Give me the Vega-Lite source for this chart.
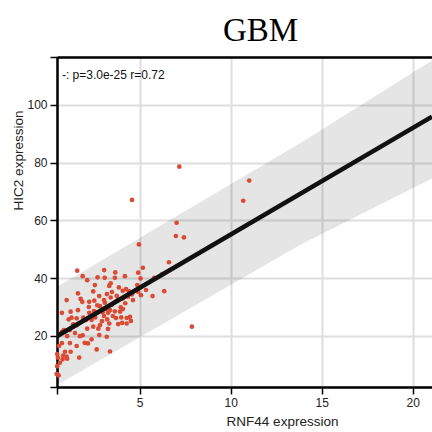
{
  "$schema": "https://vega.github.io/schema/vega-lite/v6.json",
  "autosize": {"type": "none"},
  "width": 375,
  "height": 330,
  "padding": {"left": 57, "top": 57, "right": 0, "bottom": 45},
  "background": "white",
  "title": {"text": "GBM", "font": "Liberation Serif", "fontSize": 33, "fontWeight": "normal", "color": "#000", "anchor": "middle", "dx": 16, "offset": -18, "baseline": "alphabetic"},
  "config": {
    "view": {"stroke": null},
    "axis": {
      "domainColor": "#000", "domainWidth": 2.5, "tickColor": "#000", "tickWidth": 1.5, "tickSize": 7,
      "labelFont": "Liberation Sans", "labelFontSize": 12, "labelColor": "#222", "labelPadding": 3,
      "titleFont": "Liberation Sans", "titleFontSize": 13.5, "titleFontWeight": "normal", "titleColor": "#222",
      "gridColor": "#dedede", "gridWidth": 2
    }
  },
  "datasets": {
    "points": [
      {"rnf44": 7.18, "hic2": 78.6}, {"rnf44": 4.58, "hic2": 67.1}, {"rnf44": 11.02, "hic2": 73.8}, {"rnf44": 10.69, "hic2": 66.8},
      {"rnf44": 7.03, "hic2": 59.2}, {"rnf44": 6.99, "hic2": 54.6}, {"rnf44": 7.43, "hic2": 54.1}, {"rnf44": 4.96, "hic2": 51.7},
      {"rnf44": 6.61, "hic2": 45.5}, {"rnf44": 5.18, "hic2": 43.6}, {"rnf44": 7.87, "hic2": 23.2}, {"rnf44": 6.23, "hic2": 41.3},
      {"rnf44": 5.8, "hic2": 40.1}, {"rnf44": 6.35, "hic2": 35.5}, {"rnf44": 5.71, "hic2": 33.8},
      {"rnf44": 1.57, "hic2": 42.6}, {"rnf44": 1.87, "hic2": 40.7}, {"rnf44": 2.12, "hic2": 39.3}, {"rnf44": 2.69, "hic2": 40.3},
      {"rnf44": 3.08, "hic2": 40.1}, {"rnf44": 3.66, "hic2": 42.0}, {"rnf44": 3.64, "hic2": 40.1}, {"rnf44": 4.19, "hic2": 40.7},
      {"rnf44": 4.92, "hic2": 41.9}, {"rnf44": 5.05, "hic2": 39.9}, {"rnf44": 3.41, "hic2": 38.2}, {"rnf44": 3.33, "hic2": 37.3},
      {"rnf44": 3.86, "hic2": 36.8}, {"rnf44": 2.45, "hic2": 35.4}, {"rnf44": 4.07, "hic2": 35.6}, {"rnf44": 4.41, "hic2": 35.5},
      {"rnf44": 4.87, "hic2": 37.6}, {"rnf44": 4.91, "hic2": 35.3}, {"rnf44": 4.58, "hic2": 34.4}, {"rnf44": 1.61, "hic2": 34.7},
      {"rnf44": 1.76, "hic2": 32.8}, {"rnf44": 1.85, "hic2": 31.8}, {"rnf44": 0.99, "hic2": 32.4}, {"rnf44": 2.78, "hic2": 33.8},
      {"rnf44": 3.04, "hic2": 32.4}, {"rnf44": 3.41, "hic2": 33.3}, {"rnf44": 3.74, "hic2": 33.9}, {"rnf44": 4.1, "hic2": 33.0},
      {"rnf44": 4.36, "hic2": 33.6}, {"rnf44": 4.21, "hic2": 31.3}, {"rnf44": 3.96, "hic2": 29.9}, {"rnf44": 3.66, "hic2": 31.8},
      {"rnf44": 3.46, "hic2": 30.7}, {"rnf44": 3.09, "hic2": 31.5}, {"rnf44": 2.67, "hic2": 30.6}, {"rnf44": 2.23, "hic2": 31.8},
      {"rnf44": 2.51, "hic2": 32.2}, {"rnf44": 2.21, "hic2": 30.0}, {"rnf44": 1.61, "hic2": 28.9}, {"rnf44": 1.21, "hic2": 28.4},
      {"rnf44": 1.26, "hic2": 26.3}, {"rnf44": 1.1, "hic2": 25.7}, {"rnf44": 0.84, "hic2": 22.0}, {"rnf44": 0.73, "hic2": 21.4},
      {"rnf44": 1.54, "hic2": 26.1}, {"rnf44": 1.9, "hic2": 26.3}, {"rnf44": 2.23, "hic2": 28.0}, {"rnf44": 2.36, "hic2": 25.5},
      {"rnf44": 2.56, "hic2": 26.4}, {"rnf44": 2.73, "hic2": 28.2}, {"rnf44": 2.97, "hic2": 28.2}, {"rnf44": 3.04, "hic2": 26.9},
      {"rnf44": 3.27, "hic2": 28.0}, {"rnf44": 3.37, "hic2": 28.9}, {"rnf44": 3.64, "hic2": 28.5}, {"rnf44": 3.92, "hic2": 28.4},
      {"rnf44": 3.99, "hic2": 26.4}, {"rnf44": 4.29, "hic2": 26.2}, {"rnf44": 4.47, "hic2": 26.6}, {"rnf44": 4.52, "hic2": 25.2},
      {"rnf44": 4.29, "hic2": 24.3}, {"rnf44": 4.04, "hic2": 24.5}, {"rnf44": 3.82, "hic2": 24.1}, {"rnf44": 3.22, "hic2": 25.7},
      {"rnf44": 3.33, "hic2": 24.3}, {"rnf44": 3.26, "hic2": 22.4}, {"rnf44": 2.82, "hic2": 23.7}, {"rnf44": 2.73, "hic2": 22.5},
      {"rnf44": 2.78, "hic2": 20.3}, {"rnf44": 3.19, "hic2": 19.7}, {"rnf44": 2.45, "hic2": 23.2}, {"rnf44": 2.12, "hic2": 22.5},
      {"rnf44": 1.87, "hic2": 20.2}, {"rnf44": 1.72, "hic2": 19.9}, {"rnf44": 1.54, "hic2": 16.5}, {"rnf44": 1.98, "hic2": 17.6},
      {"rnf44": 2.16, "hic2": 17.4}, {"rnf44": 2.36, "hic2": 18.8}, {"rnf44": 2.64, "hic2": 15.3}, {"rnf44": 3.37, "hic2": 14.6},
      {"rnf44": 1.68, "hic2": 12.5}, {"rnf44": 1.21, "hic2": 14.5}, {"rnf44": 0.9, "hic2": 14.5}, {"rnf44": 0.99, "hic2": 12.8},
      {"rnf44": 0.77, "hic2": 11.9}, {"rnf44": 0.62, "hic2": 10.7}, {"rnf44": 0.47, "hic2": 13.7}, {"rnf44": 0.51, "hic2": 12.5},
      {"rnf44": 0.47, "hic2": 9.5}, {"rnf44": 0.44, "hic2": 6.8}, {"rnf44": 0.55, "hic2": 6.3}, {"rnf44": 1.02, "hic2": 12.1},
      {"rnf44": 0.8, "hic2": 13.2}, {"rnf44": 1.17, "hic2": 22.0}, {"rnf44": 1.02, "hic2": 19.9}, {"rnf44": 0.73, "hic2": 28.0},
      {"rnf44": 1.35, "hic2": 24.0}, {"rnf44": 3.05, "hic2": 42.8}, {"rnf44": 3.48, "hic2": 35.2}, {"rnf44": 3.81, "hic2": 32.8},
      {"rnf44": 2.82, "hic2": 30.3}, {"rnf44": 3.15, "hic2": 29.3}, {"rnf44": 3.53, "hic2": 26.9}, {"rnf44": 2.49, "hic2": 28.6},
      {"rnf44": 2.05, "hic2": 25.5}, {"rnf44": 2.93, "hic2": 25.1}, {"rnf44": 3.7, "hic2": 26.2}, {"rnf44": 4.08, "hic2": 29.3},
      {"rnf44": 4.63, "hic2": 32.4}, {"rnf44": 5.07, "hic2": 34.1}, {"rnf44": 5.35, "hic2": 35.9}, {"rnf44": 4.25, "hic2": 36.2},
      {"rnf44": 3.2, "hic2": 34.5}, {"rnf44": 2.54, "hic2": 37.6}, {"rnf44": 1.55, "hic2": 23.7}, {"rnf44": 1.45, "hic2": 21.0},
      {"rnf44": 0.73, "hic2": 17.5}, {"rnf44": 1.17, "hic2": 17.5}, {"rnf44": 0.57, "hic2": 16.5}
    ],
    "band": [
      {"rnf44": 0.46, "lo": 3.0, "hi": 37.0},
      {"rnf44": 13.81, "lo": 51.5, "hi": 86.7},
      {"rnf44": 21.06, "lo": 74.5, "hi": 115.4}
    ],
    "fit": [
      {"rnf44": 0.46, "hic2": 19.9},
      {"rnf44": 21.06, "hic2": 95.9}
    ]
  },
  "resolve": {"axis": {"x": "independent", "y": "independent"}},
  "layer": [
    {
      "data": {"name": "band"},
      "mark": {"type": "area", "color": "#000", "opacity": 0.1},
      "encoding": {
        "x": {"field": "rnf44", "type": "quantitative", "scale": {"domain": [0.46, 21.06], "nice": false, "zero": false},
          "axis": {"orient": "bottom", "title": "RNF44 expression", "values": [0.46, 5, 10, 15, 20],
            "labelExpr": "datum.value >= 5 ? datum.value : ''", "titleX": 225, "titlePadding": 6}},
        "y": {"field": "lo", "type": "quantitative", "scale": {"domain": [2.3, 116.6], "nice": false, "zero": false},
          "axis": {"orient": "left", "title": "HIC2 expression", "values": [2.3, 20, 40, 60, 80, 100, 116.6],
            "labelExpr": "datum.value >= 20 && datum.value <= 100 ? datum.value : ''", "titleY": 103, "titlePadding": 1}},
        "y2": {"field": "hi"}
      }
    },
    {
      "data": {"name": "points"},
      "mark": {"type": "circle", "color": "#dc4a34", "opacity": 1, "size": 22},
      "encoding": {
        "x": {"field": "rnf44", "type": "quantitative", "axis": null},
        "y": {"field": "hic2", "type": "quantitative", "axis": null}
      }
    },
    {
      "data": {"name": "fit"},
      "mark": {"type": "line", "color": "#111", "strokeWidth": 4.5, "clip": true},
      "encoding": {
        "x": {"field": "rnf44", "type": "quantitative",
          "axis": {"orient": "top", "title": null, "labels": false, "ticks": false, "grid": false, "domainWidth": 2.5}},
        "y": {"field": "hic2", "type": "quantitative", "axis": null}
      }
    },
    {
      "data": {"values": [{"label": "-: p=3.0e-25 r=0.72"}]},
      "mark": {"type": "text", "align": "left", "baseline": "middle", "font": "Liberation Sans", "fontSize": 12, "color": "#111"},
      "encoding": {
        "x": {"datum": 0.73, "type": "quantitative", "axis": null},
        "y": {"datum": 110.4, "type": "quantitative", "axis": null},
        "text": {"field": "label"}
      }
    }
  ]
}
